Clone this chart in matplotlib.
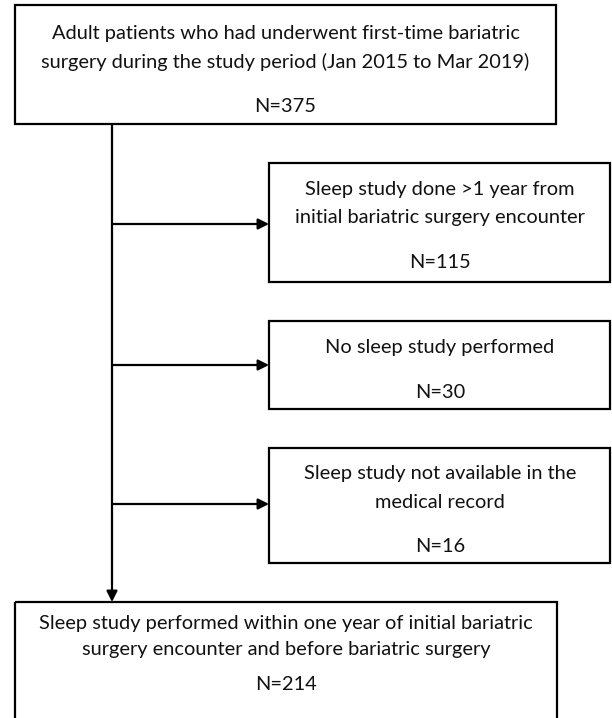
import matplotlib.pyplot as plt
from matplotlib.patches import Rectangle

plt.rcParams['font.family'] = ['Lato', 'DejaVu Sans']

# flowchart content
top_text = "Adult patients who had underwent first-time bariatric\nsurgery during the study period (Jan 2015 to Mar 2019)"
top_n = 375
excl_texts = [
    "Sleep study done >1 year from\ninitial bariatric surgery encounter",
    "No sleep study performed",
    "Sleep study not available in the\nmedical record",
]
excl_n = [115, 30, 16]
final_text = "Sleep study performed within one year of initial bariatric\nsurgery encounter and before bariatric surgery"
final_n = 214

fig = plt.figure(figsize=(6.12, 7.18), dpi=100)
ax = fig.add_axes([0, 0, 1, 1])
ax.set_xlim(0, 612)
ax.set_ylim(718, 0)
ax.axis('off')

fs = 14.4
lw = 1.6

def box(x0, y0, x1, y1):
    ax.add_patch(Rectangle((x0, y0), x1 - x0, y1 - y0, fill=False, lw=lw, ec='black'))

def lines(cx, ys, strs):
    for y, s in zip(ys, strs):
        ax.text(cx, y, s, ha='center', va='center', fontsize=fs, color='#111111')

# top box
box(15, 5, 556, 124)
lines(285.5, [33, 62, 106], top_text.split("\n") + ["N=%d" % top_n])

# exclusion boxes
spine_x = 112
excl_boxes = [(163, 282), (321, 409), (448, 563)]
excl_text_y = [[189, 217, 262], [347, 392], [474, 503, 547]]
arrow_y = [224, 365, 504]
for (y0, y1), ys, s, n, ay in zip(excl_boxes, excl_text_y, excl_texts, excl_n, arrow_y):
    box(269, y0, 610, y1)
    lines(440, ys, s.split("\n") + ["N=%d" % n])
    ax.annotate("", xy=(269, ay), xytext=(spine_x, ay),
                arrowprops=dict(arrowstyle='-|>', lw=lw, color='black',
                                mutation_scale=16, shrinkA=0, shrinkB=0))

# main vertical arrow
ax.annotate("", xy=(spine_x, 602), xytext=(spine_x, 124),
            arrowprops=dict(arrowstyle='-|>', lw=lw, color='black',
                            mutation_scale=16, shrinkA=0, shrinkB=0))

# final box
box(15, 602, 557, 722)
lines(286, [623, 649, 685], final_text.split("\n") + ["N=%d" % final_n])

fig.savefig("out.png", dpi=100)
